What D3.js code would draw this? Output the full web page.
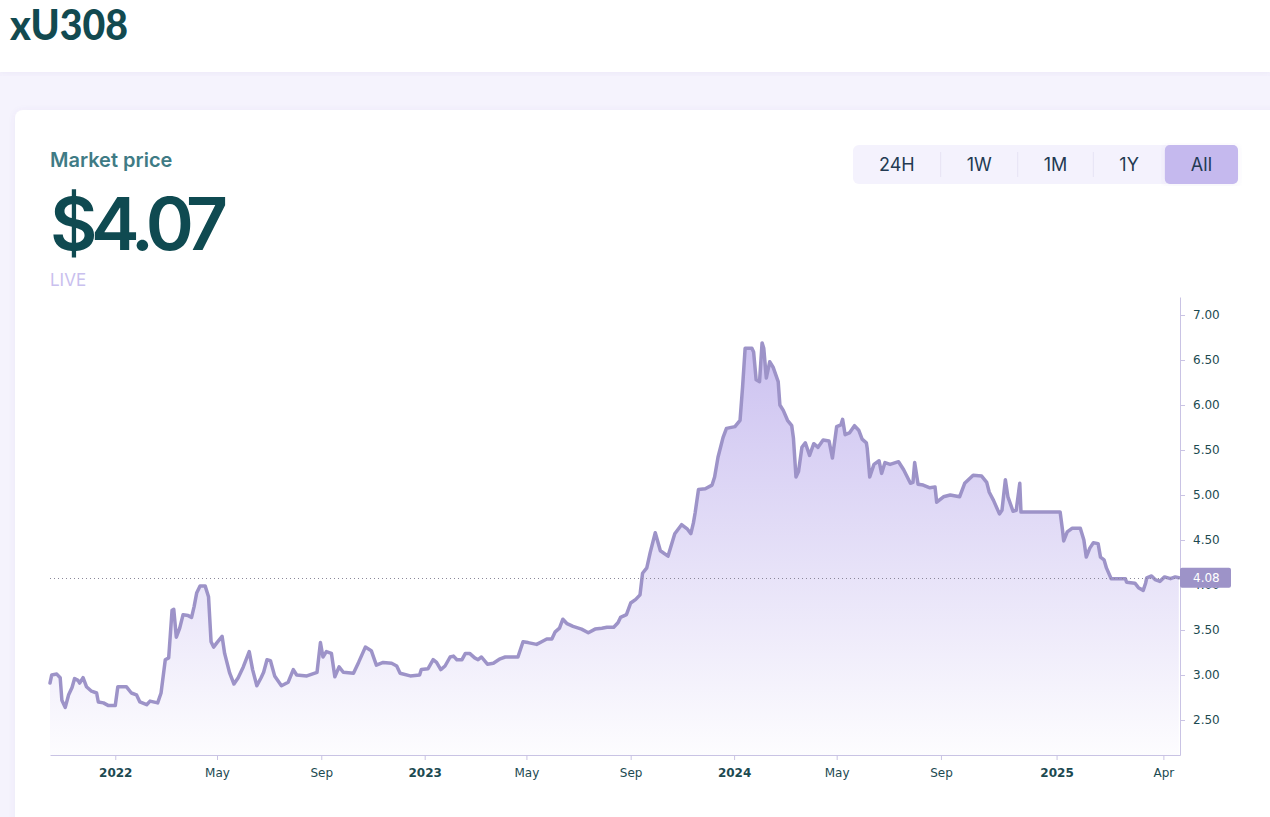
<!DOCTYPE html>
<html>
<head>
<meta charset="utf-8">
<script src="https://cdn.jsdelivr.net/npm/d3@7"></script>
<style>
  html, body { margin: 0; padding: 0; background: #f5f3fd; }
  svg { display: block; }
</style>
</head>
<body>
<svg width="1270" height="817"></svg>
<script>
// price history (U3O8 spot, USD)
const dates = [
  "2021-10-16","2021-10-18","2021-10-24","2021-10-28","2021-10-30","2021-11-03","2021-11-07","2021-11-11","2021-11-14",
  "2021-11-18","2021-11-20","2021-11-24","2021-11-28","2021-12-04","2021-12-10","2021-12-12","2021-12-18","2021-12-24",
  "2022-01-01","2022-01-04","2022-01-14","2022-01-20","2022-01-26","2022-01-30","2022-02-07","2022-02-11","2022-02-20",
  "2022-02-24","2022-03-01","2022-03-05","2022-03-09","2022-03-11","2022-03-14","2022-03-18","2022-03-22","2022-03-28",
  "2022-04-01","2022-04-04","2022-04-07","2022-04-11","2022-04-17","2022-04-21","2022-04-24","2022-04-27","2022-05-01",
  "2022-05-07","2022-05-10","2022-05-16","2022-05-21","2022-05-26","2022-06-01","2022-06-08","2022-06-12","2022-06-17",
  "2022-06-22","2022-06-25","2022-06-29","2022-07-03","2022-07-08","2022-07-16","2022-07-24","2022-07-30","2022-08-03",
  "2022-08-15","2022-08-27","2022-08-31","2022-09-03","2022-09-07","2022-09-13","2022-09-17","2022-09-22","2022-09-27",
  "2022-10-09","2022-10-15","2022-10-23","2022-10-30","2022-11-05","2022-11-13","2022-11-23","2022-11-29","2022-12-03",
  "2022-12-15","2022-12-26","2022-12-28",
  "2023-01-05","2023-01-11","2023-01-15","2023-01-20","2023-01-25","2023-01-31","2023-02-04","2023-02-08","2023-02-14",
  "2023-02-18","2023-02-23","2023-03-01","2023-03-05","2023-03-09","2023-03-16","2023-03-23","2023-03-31","2023-04-06",
  "2023-04-21","2023-04-27","2023-05-03","2023-05-13","2023-05-19","2023-05-25","2023-05-31","2023-06-04","2023-06-09",
  "2023-06-13","2023-06-18","2023-06-25","2023-07-05","2023-07-13","2023-07-21","2023-07-29","2023-08-04","2023-08-12",
  "2023-08-17","2023-08-20","2023-08-27","2023-09-01","2023-09-07","2023-09-12","2023-09-15","2023-09-20","2023-09-24",
  "2023-09-30","2023-10-06","2023-10-15","2023-10-23","2023-10-31","2023-11-07","2023-11-11","2023-11-14","2023-11-16",
  "2023-11-20","2023-11-28","2023-12-06","2023-12-09","2023-12-13","2023-12-19","2023-12-23",
  "2024-01-02","2024-01-08","2024-01-11","2024-01-14","2024-01-22","2024-01-24","2024-01-27","2024-01-31","2024-02-03",
  "2024-02-05","2024-02-08","2024-02-12","2024-02-16","2024-02-19","2024-02-22","2024-02-24","2024-02-28","2024-03-04",
  "2024-03-09","2024-03-11","2024-03-14","2024-03-17","2024-03-21","2024-03-25","2024-03-30","2024-04-04","2024-04-09",
  "2024-04-15","2024-04-22","2024-04-26","2024-05-01","2024-05-06","2024-05-08","2024-05-11","2024-05-16","2024-05-22",
  "2024-05-27","2024-05-31","2024-06-05","2024-06-06","2024-06-09","2024-06-14","2024-06-20","2024-06-23","2024-06-27",
  "2024-07-03","2024-07-13","2024-07-19","2024-07-27","2024-07-30","2024-08-01","2024-08-05","2024-08-11","2024-08-19",
  "2024-08-25","2024-08-27","2024-09-04","2024-09-12","2024-09-23","2024-09-29","2024-10-09","2024-10-19","2024-10-25",
  "2024-10-28","2024-11-02","2024-11-09","2024-11-12","2024-11-16","2024-11-19","2024-11-25","2024-11-28","2024-12-01",
  "2024-12-02","2024-12-10",
  "2025-01-04","2025-01-06","2025-01-07","2025-01-10","2025-01-14","2025-01-21","2025-01-24","2025-01-26","2025-01-29",
  "2025-02-01","2025-02-05","2025-02-07","2025-02-10","2025-02-12","2025-02-16","2025-02-28","2025-03-01","2025-03-08",
  "2025-03-11","2025-03-15","2025-03-17","2025-03-18","2025-03-22","2025-03-25","2025-03-29","2025-04-02","2025-04-07",
  "2025-04-11","2025-04-14"
];
const prices = [
  2.91,3.00,3.01,2.97,2.72,2.64,2.78,2.86,2.96,
  2.94,2.91,2.97,2.87,2.82,2.80,2.70,2.69,2.66,
  2.66,2.87,2.87,2.80,2.78,2.70,2.67,2.71,2.69,
  2.80,3.17,3.19,3.72,3.73,3.42,3.52,3.67,3.66,
  3.64,3.76,3.91,3.99,3.99,3.87,3.37,3.31,3.36,
  3.43,3.24,3.02,2.90,2.97,3.09,3.26,3.06,2.88,
  2.97,3.03,3.17,3.16,2.99,2.88,2.92,3.06,3.00,
  2.99,3.03,3.36,3.20,3.26,3.24,2.98,3.09,3.03,
  3.02,3.14,3.31,3.27,3.11,3.14,3.13,3.10,3.02,
  2.99,3.00,3.06,
  3.07,3.17,3.14,3.06,3.10,3.20,3.21,3.17,3.17,
  3.24,3.24,3.19,3.17,3.20,3.12,3.13,3.18,3.20,
  3.20,3.37,3.36,3.34,3.37,3.40,3.40,3.48,3.52,
  3.62,3.57,3.54,3.51,3.47,3.51,3.52,3.53,3.53,
  3.58,3.64,3.67,3.80,3.84,3.89,4.13,4.19,4.36,
  4.58,4.38,4.32,4.57,4.67,4.62,4.57,4.69,4.80,
  5.06,5.07,5.11,5.20,5.42,5.64,5.74,
  5.76,5.83,6.20,6.63,6.63,6.59,6.28,6.26,6.69,
  6.63,6.30,6.48,6.42,6.34,6.26,6.00,5.94,5.83,
  5.77,5.63,5.20,5.26,5.53,5.58,5.44,5.57,5.53,
  5.61,5.60,5.41,5.76,5.78,5.84,5.67,5.69,5.77,
  5.72,5.62,5.58,5.52,5.20,5.34,5.38,5.24,5.36,
  5.34,5.37,5.28,5.13,5.14,5.36,5.12,5.11,5.08,
  5.09,4.92,4.98,5.00,4.98,5.13,5.22,5.21,5.14,
  5.03,4.94,4.79,4.83,5.17,4.98,4.82,4.83,5.13,
  4.81,4.81,
  4.81,4.61,4.49,4.59,4.63,4.63,4.50,4.31,4.41,
  4.47,4.46,4.31,4.28,4.19,4.07,4.07,4.03,4.02,
  3.97,3.94,4.02,4.08,4.10,4.06,4.04,4.09,4.07,
  4.09,4.08
];
const yTicks = [2.5, 3.0, 3.5, 4.0, 4.5, 5.0, 5.5, 6.0, 6.5, 7.0];
const xTickDates = ["2022-01-01","2022-05-01","2022-09-01","2023-01-01","2023-05-01","2023-09-01",
                    "2024-01-01","2024-05-01","2024-09-01","2025-01-01","2025-04-01"];
const xTickLabels = ["2022","May","Sep","2023","May","Sep","2024","May","Sep","2025","Apr"];
const ranges = ["24H", "1W", "1M", "1Y", "All"];
const activeRange = "All";
const lastPrice = 4.08;
const headline = "$4.07";

const svg = d3.select("svg"),
    W = +svg.attr("width"),
    H = +svg.attr("height"),
    margin = {top: 297, right: 90, bottom: 62, left: 50},
    width = W - margin.left - margin.right,
    height = H - margin.top - margin.bottom;

const parseTime = d3.timeParse("%Y-%m-%d");
const data = dates.map((d, i) => ({date: parseTime(d), price: prices[i]}));

// ---- page chrome ----
const defs = svg.append("defs");
const shadow = defs.append("filter").attr("id", "shadow")
    .attr("x", "-5%").attr("y", "-5%").attr("width", "110%").attr("height", "110%");
shadow.append("feDropShadow").attr("dx", 0).attr("dy", 1).attr("stdDeviation", 3)
    .attr("flood-color", "#6b5fb0").attr("flood-opacity", 0.08);

svg.append("rect").attr("width", W).attr("height", H).attr("fill", "#f5f3fd");
svg.append("rect").attr("width", W).attr("height", 72).attr("fill", "#fff").attr("filter", "url(#shadow)");
svg.append("rect").attr("x", 15).attr("y", 110).attr("width", W + 40).attr("height", H)
    .attr("rx", 8).attr("fill", "#fff").attr("filter", "url(#shadow)");

svg.append("text")
    .attr("x", 10).attr("y", 40)
    .attr("font-family", "Lato, sans-serif").attr("font-weight", 900).attr("font-size", 42)
    .attr("textLength", 118).attr("lengthAdjust", "spacingAndGlyphs")
    .attr("fill", "#124a50")
    .text("xU308");

svg.append("text")
    .attr("x", 50).attr("y", 167)
    .attr("font-family", "Inter, sans-serif").attr("font-weight", 600).attr("font-size", 20)
    .attr("fill", "#3f7b85")
    .text("Market price");

svg.append("text")
    .attr("x", 50).attr("y", 250)
    .attr("font-family", "Inter, sans-serif").attr("font-weight", 600).attr("font-size", 73)
    .attr("textLength", 178).attr("lengthAdjust", "spacing")
    .attr("fill", "#0f4a51")
    .text(headline);

svg.append("text")
    .attr("x", 50).attr("y", 286)
    .attr("font-family", "Inter, sans-serif").attr("font-size", 17)
    .attr("fill", "#c9c0ee")
    .text("LIVE");

// range buttons, right-aligned, width from text + padding
const btn = svg.append("g");
const btnBg = btn.append("rect").attr("y", 145).attr("height", 39).attr("rx", 6).attr("fill", "#f4f2fd");
const labels = btn.selectAll("text.range").data(ranges).join("text")
    .attr("class", "range")
    .attr("y", 171)
    .attr("text-anchor", "middle")
    .attr("font-family", "Inter, sans-serif").attr("font-size", 18)
    .attr("fill", "#233a52")
    .text(d => d);
const pad = 26;
const widths = labels.nodes().map(n => n.getComputedTextLength() + 2 * pad);
let right = 1238;
const lefts = [];
for (let i = ranges.length - 1; i >= 0; i--) { right -= widths[i]; lefts[i] = right; }
btnBg.attr("x", lefts[0]).attr("width", 1238 - lefts[0]);
ranges.forEach((r, i) => {
  if (r === activeRange) {
    btn.insert("rect", "text").attr("x", lefts[i]).attr("y", 145)
        .attr("width", widths[i]).attr("height", 39).attr("rx", 5)
        .attr("fill", "#c5b9ee").attr("filter", "url(#shadow)");
  } else if (i > 0 && ranges[i - 1] !== activeRange) {
    btn.append("line").attr("x1", lefts[i]).attr("x2", lefts[i])
        .attr("y1", 152).attr("y2", 177).attr("stroke", "#e6e3f4");
  }
});
labels.attr("x", (d, i) => lefts[i] + widths[i] / 2).raise();

// ---- chart ----
const g = svg.append("g").attr("transform", "translate(" + margin.left + "," + margin.top + ")");

// bars are weekdays only until late Nov 2024, daily after that
const t0 = parseTime("2021-10-16"), tSwitch = parseTime("2024-11-26"), t1 = parseTime("2025-04-15");
const u1 = d3.timeDay.count(t0, tSwitch) * 5 / 7,
      u2 = u1 + d3.timeDay.count(tSwitch, t1);
const x = d3.scaleTime()
    .domain([t0, tSwitch, t1])
    .range([0, width * u1 / u2, width]);

const y = d3.scaleLinear()
    .domain([2.111, 7.2])
    .range([height, 0]);

const grad = defs.append("linearGradient").attr("id", "fill")
    .attr("gradientUnits", "userSpaceOnUse")
    .attr("x1", 0).attr("x2", 0)
    .attr("y1", y(d3.max(prices))).attr("y2", height);
grad.append("stop").attr("offset", 0).attr("stop-color", "#b6a7ea").attr("stop-opacity", 0.7);
grad.append("stop").attr("offset", 1).attr("stop-color", "#b6a7ea").attr("stop-opacity", 0.03);

const area_gen = d3.area()
    .x(d => x(d.date))
    .y0(height)
    .y1(d => y(d.price));

const line_gen = d3.line()
    .x(d => x(d.date))
    .y(d => y(d.price));

g.append("path")
    .datum(data)
    .attr("fill", "url(#fill)")
    .attr("d", area_gen);

g.append("path")
    .datum(data)
    .attr("fill", "none")
    .attr("stroke", "#9d93c8")
    .attr("stroke-width", 3.5)
    .attr("stroke-linejoin", "round")
    .attr("stroke-linecap", "round")
    .attr("d", line_gen);

// last price line
g.append("line")
    .attr("x1", 0).attr("x2", width)
    .attr("y1", Math.round(y(lastPrice)) + 0.5).attr("y2", Math.round(y(lastPrice)) + 0.5)
    .attr("stroke", "#8a8799").attr("stroke-dasharray", "1,3");

const axisColor = "#c9c3e4", labelColor = "#1c4a51";

const xAxis = g.append("g")
    .attr("transform", "translate(0," + height + ")")
    .call(d3.axisBottom(x)
        .tickValues(xTickDates.map(parseTime))
        .tickFormat((d, i) => xTickLabels[i])
        .tickSize(5).tickPadding(8).tickSizeOuter(0));

const yAxis = g.append("g")
    .attr("transform", "translate(" + width + ",0)")
    .call(d3.axisRight(y)
        .tickValues(yTicks)
        .tickFormat(d3.format(".2f"))
        .tickSize(5).tickPadding(8).tickSizeOuter(0));

[xAxis, yAxis].forEach(a => {
  a.attr("font-family", "'DejaVu Sans', sans-serif").attr("font-size", 12);
  a.select(".domain").attr("stroke", axisColor);
  a.selectAll(".tick line").attr("stroke", axisColor);
  a.selectAll(".tick text").attr("fill", labelColor);
});
xAxis.selectAll(".tick text").attr("font-weight", (d, i) => /^\d{4}$/.test(xTickLabels[i]) ? "bold" : null);

// last price label on the scale (it sits over the 4.00 tick, as in the original)
const tag = g.append("g").attr("transform", "translate(" + width + "," + y(lastPrice) + ")");
tag.append("rect").attr("x", 0).attr("y", -10).attr("width", 51).attr("height", 20)
    .attr("rx", 2).attr("fill", "#9d93c8");
tag.append("text")
    .attr("x", 13).attr("dy", "0.35em")
    .attr("font-family", "'DejaVu Sans', sans-serif").attr("font-size", 12)
    .attr("fill", "#fff")
    .text(lastPrice.toFixed(2));
</script>
</body>
</html>
